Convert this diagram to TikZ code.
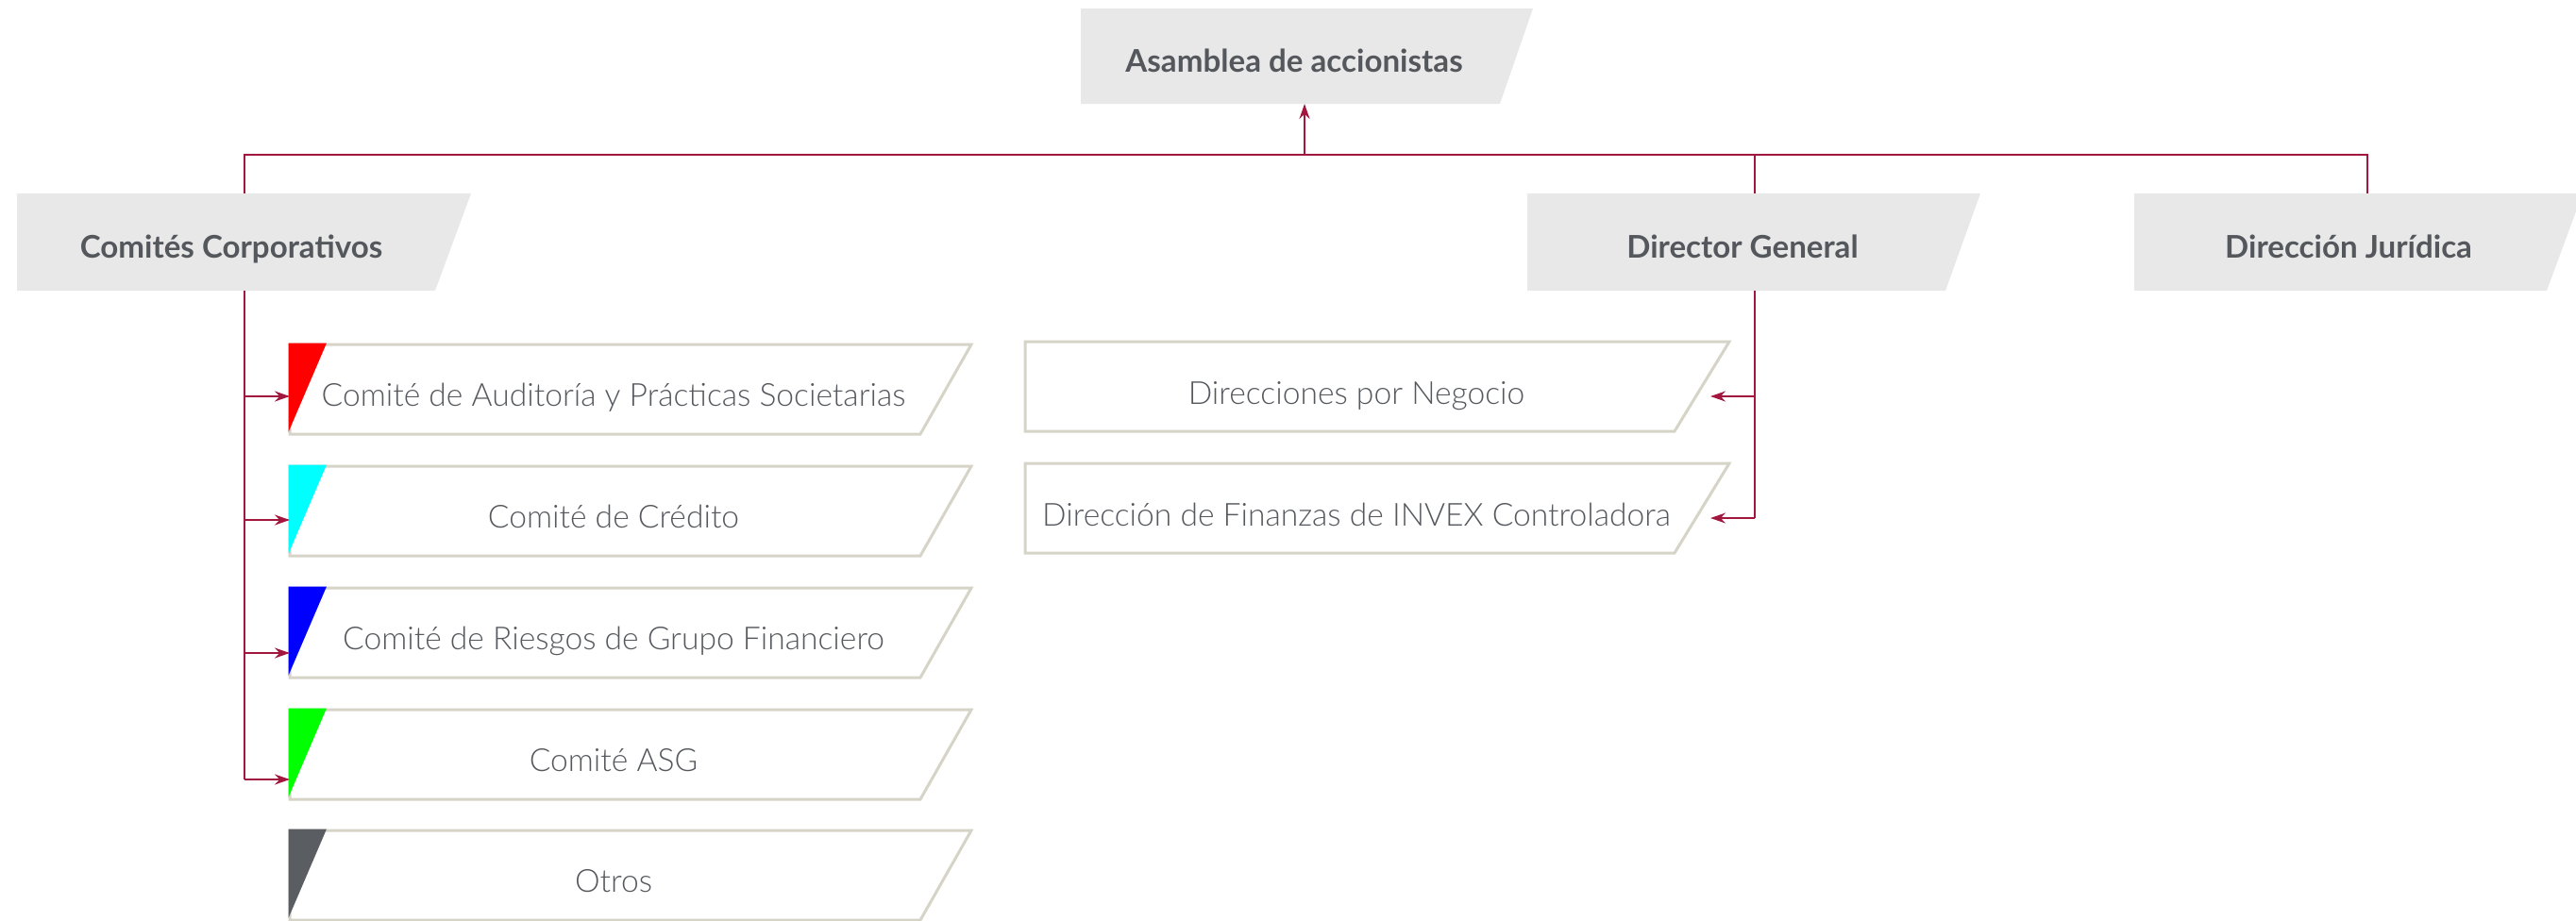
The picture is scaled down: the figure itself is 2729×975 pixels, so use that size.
\documentclass[tikz,border=0pt]{standalone}
\usepackage{fontspec}
\setmainfont{Lato}
\newfontfamily\lightfont{Lato Light}
\usetikzlibrary{arrows.meta}
\definecolor{hdrfill}{HTML}{E8E8E8}
\definecolor{txtgray}{HTML}{54585D}
\definecolor{subgray}{HTML}{55585D}
\definecolor{edgecol}{HTML}{D6D3C7}
\definecolor{conncol}{HTML}{A3173E}
\definecolor{otroscol}{HTML}{5A5D61}
\definecolor{trired}{HTML}{FF0000}
\definecolor{tricyan}{HTML}{00FFFF}
\definecolor{triblue}{HTML}{0000FF}
\definecolor{trigreen}{HTML}{00FF00}
\tikzset{
  hdrbox/.style={fill=hdrfill, draw=none},
  subbox/.style={draw=edgecol, line width=3pt, fill=white, line join=miter},
  hdrtxt/.style={font=\fontsize{33.1}{38}\selectfont\bfseries, text=txtgray, anchor=base, inner sep=0pt},
  subtxt/.style={font=\lightfont\fontsize{33.6}{38}\selectfont, text=subgray, anchor=base, inner sep=0pt},
  conn/.style={draw=conncol, line width=2pt},
  arr/.style={conn, -{Stealth[length=16pt,width=11pt]}},
}
\begin{document}
\begin{tikzpicture}[x=1pt,y=-1pt]
\useasboundingbox (0,0) rectangle (2729,975);

% ---------- header boxes ----------
\fill[hdrbox] (1145,9) -- (1624,9) -- (1589,110) -- (1145,110) -- cycle;
\fill[hdrbox] (18,205) -- (499,205) -- (461,308) -- (18,308) -- cycle;
\fill[hdrbox] (1618,205) -- (2098,205) -- (2061,308) -- (1618,308) -- cycle;
\fill[hdrbox] (2261,205) -- (2736,205) -- (2698,308) -- (2261,308) -- cycle;

\node[hdrtxt] (asm) at (1371,76) {Asamblea de accionistas};
\node[hdrtxt] (cc) at (245,273) {Comités Corporativos};
\node[hdrtxt] (dg) at (1846,273) {Director General};
\node[hdrtxt] (dj) at (2488,273) {Dirección Jurídica};

% ---------- committee boxes ----------
\foreach \t/\c in {365/trired, 494/tricyan, 623/triblue, 752/trigreen, 880/otroscol}{
  \draw[subbox] (307,\t) -- (1029,\t) -- (975,\t+95) -- (307,\t+95) -- cycle;
  \fill[\c] (305.5,\t-1.5) -- (346,\t-1.5) -- (305.5,\t+93) -- cycle;
}
\node[subtxt] (aud) at (650,430) {Comité de Auditoría y Prácticas Societarias};
\node[subtxt] (cred) at (650,559) {Comité de Crédito};
\node[subtxt] (ries) at (650,688) {Comité de Riesgos de Grupo Financiero};
\node[subtxt] (asg) at (650,817) {Comité ASG};
\node[subtxt] (otr) at (650,945) {Otros};

% ---------- direction boxes ----------
\foreach \t in {362, 491}{
  \draw[subbox] (1086,\t) -- (1832,\t) -- (1774,\t+95) -- (1086,\t+95) -- cycle;
}
\node[subtxt] (neg) at (1437,428) {Direcciones por Negocio};
\node[subtxt] (fin) at (1437,557) {Dirección de Finanzas de INVEX Controladora};

% ---------- connector points ----------
\coordinate (bus) at (1382,164);
\coordinate (asm-in) at (1382,110);
\coordinate (cc-top) at (259,205);
\coordinate (cc-bot) at (259,308);
\coordinate (dg-top) at (1859,205);
\coordinate (dg-bot) at (1859,308);
\coordinate (dj-top) at (2508,205);
\coordinate (aud-in) at (307,420);
\coordinate (cred-in) at (307,551);
\coordinate (ries-in) at (307,692);
\coordinate (asg-in) at (307,826);
\coordinate (neg-in) at (1812,420);
\coordinate (fin-in) at (1812,549);

% ---------- connectors ----------
\draw[conn] (cc-top) |- (bus) -| (dj-top);
\draw[conn] (dg-top) -- (dg-top |- bus);
\draw[arr] (bus) -- (asm-in);

\draw[conn] (cc-bot) -- (cc-bot |- asg-in);
\draw[arr] (cc-bot |- aud-in) -- (aud-in);
\draw[arr] (cc-bot |- cred-in) -- (cred-in);
\draw[arr] (cc-bot |- ries-in) -- (ries-in);
\draw[arr] (cc-bot |- asg-in) -- (asg-in);

\draw[conn] (dg-bot) -- (dg-bot |- fin-in);
\draw[arr] (dg-bot |- neg-in) -- (neg-in);
\draw[arr] (dg-bot |- fin-in) -- (fin-in);
\end{tikzpicture}
\end{document}
